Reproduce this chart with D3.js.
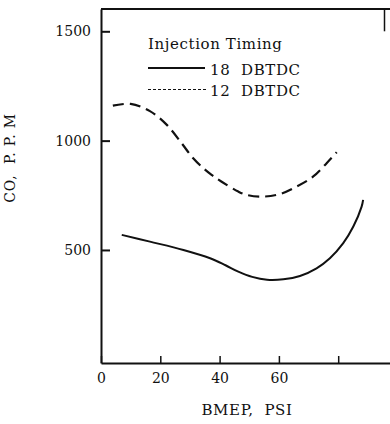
<!DOCTYPE html>
<html><head><meta charset="utf-8">
<script src="https://cdn.jsdelivr.net/npm/d3@7/dist/d3.min.js"></script>
<style>
html,body{margin:0;padding:0;background:#fff;}
svg{display:block;}
text{font-family:"DejaVu Serif",serif;fill:#111;white-space:pre;}
</style></head><body>
<svg id="chart" width="390" height="424"></svg>
<script>
// Data (BMEP in PSI, CO in P.P.M)
const xTicks = [0, 20, 40, 60, 80];
const xTickLabels = ["0", "20", "40", "60", ""];
const yTicks = [500, 1000, 1500];
const seriesNames = ["18  DBTDC", "12  DBTDC"];
const legendTitle = "Injection Timing";
const xLabel = "BMEP,  PSI";
const yLabel = "CO,  P. P. M";

const bmep18 = [7, 16.5, 27.8, 36.8, 42, 46.3, 51, 56, 61.5, 67.1, 72.7, 77.2, 81.7, 85.1, 87.9, 88.4];
const co18   = [569, 538, 500, 462, 430, 401, 377, 364, 366, 381, 416, 462, 531, 607, 698, 729];

const bmep12 = [4, 10, 16.5, 22.2, 27.2, 31.1, 34.5, 37.3, 40.7, 46.3, 49.1, 54.6, 60.4, 66, 71.5, 76.1, 79.5];
const co12   = [1160, 1168, 1135, 1072, 988, 919, 874, 843, 812, 767, 752, 744, 756, 790, 835, 897, 947];

const svg = d3.select("#chart");
const x = d3.scaleLinear().domain([0, 97.47]).range([101, 390]);
const y = d3.scaleLinear().domain([-17, 1602]).range([363, 9]);

// frame top & short right segment
svg.append("line").attr("x1", x(0)).attr("x2", 390).attr("y1", y(1602)).attr("y2", y(1602))
  .attr("stroke", "#111").attr("stroke-width", 2);
svg.append("line").attr("x1", 384.5).attr("x2", 384.5).attr("y1", y(1602)).attr("y2", y(1500))
  .attr("stroke", "#111").attr("stroke-width", 1.5);

// x axis
const gx = svg.append("g").attr("transform", `translate(0,${y(-17)})`)
  .call(d3.axisBottom(x).tickValues(xTicks).tickSize(-7).tickSizeOuter(0).tickPadding(10)
    .tickFormat((d, i) => xTickLabels[i]));
gx.select(".domain").attr("stroke", "#111").attr("stroke-width", 2);
gx.selectAll(".tick line").attr("stroke", "#111").attr("stroke-width", 1.5);
gx.selectAll(".tick text").attr("font-size", 14).attr("font-family", "DejaVu Serif").attr("fill", "#111");

// y axis
const gy = svg.append("g").attr("transform", `translate(${x(0)},0)`)
  .call(d3.axisLeft(y).tickValues(yTicks).tickSize(-9).tickSizeOuter(0).tickPadding(10)
    .tickFormat(d3.format("d")));
gy.select(".domain").attr("stroke", "#111").attr("stroke-width", 2);
gy.selectAll(".tick line").attr("stroke", "#111").attr("stroke-width", 2);
gy.selectAll(".tick text").attr("font-size", 14).attr("font-family", "DejaVu Serif").attr("fill", "#111");

// axis titles
svg.append("text").attr("x", 247).attr("y", 415).attr("text-anchor", "middle")
  .attr("font-size", 15).attr("letter-spacing", 0.6).text(xLabel);
svg.append("text").attr("transform", "translate(15,158) rotate(-90)").attr("text-anchor", "middle")
  .attr("font-size", 14).attr("letter-spacing", 0.8).text(yLabel);

// curves
const line = d3.line().x(d => x(d[0])).y(d => y(d[1])).curve(d3.curveCatmullRom.alpha(0.5));
svg.append("path").datum(d3.zip(bmep18, co18)).attr("d", line)
  .attr("fill", "none").attr("stroke", "#111").attr("stroke-width", 2);
svg.append("path").datum(d3.zip(bmep12, co12)).attr("d", line)
  .attr("fill", "none").attr("stroke", "#111").attr("stroke-width", 2.2).attr("stroke-dasharray", "11,6");

// legend
svg.append("text").attr("x", 148).attr("y", 49).attr("font-size", 15).attr("letter-spacing", 0.6).text(legendTitle);
svg.append("line").attr("x1", 148).attr("x2", 205).attr("y1", 68).attr("y2", 68)
  .attr("stroke", "#111").attr("stroke-width", 2);
svg.append("text").attr("x", 210).attr("y", 74.5).attr("font-size", 15).attr("letter-spacing", 0.6).text(seriesNames[0]);
svg.append("line").attr("x1", 148).attr("x2", 206).attr("y1", 89.5).attr("y2", 89.5)
  .attr("stroke", "#111").attr("stroke-width", 1.2).attr("stroke-dasharray", "3,2");
svg.append("text").attr("x", 210).attr("y", 95.5).attr("font-size", 15).attr("letter-spacing", 0.6).text(seriesNames[1]);
</script>
</body></html>
